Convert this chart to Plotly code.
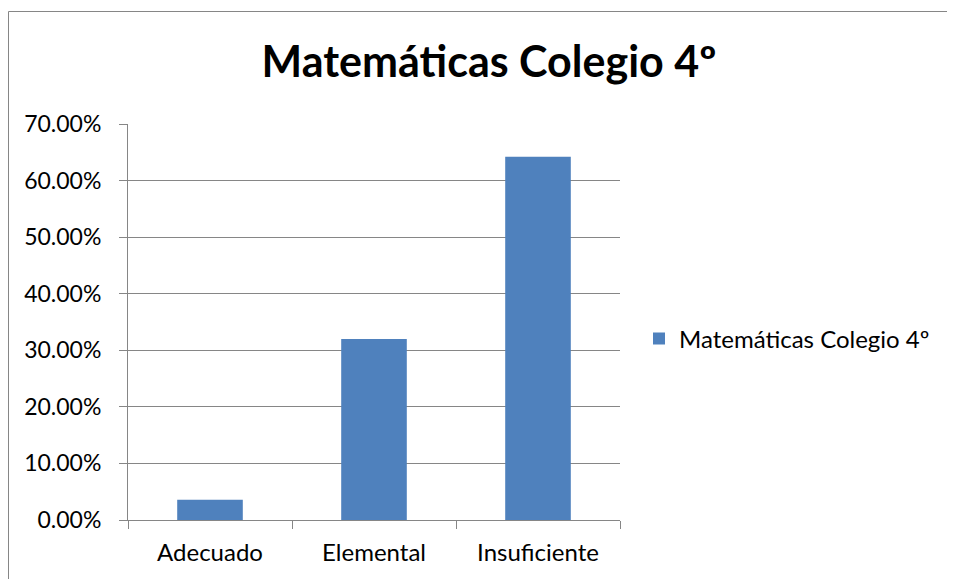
import plotly.graph_objects as go

categories = ["Adecuado", "Elemental", "Insuficiente"]
values = [0.036, 0.320, 0.642]
series_name = "Matemáticas Colegio 4º"
title_text = "Matemáticas Colegio 4º"
y_ticks = [0, 0.1, 0.2, 0.3, 0.4, 0.5, 0.6, 0.7]
y_ticklabels = ["0.00%", "10.00%", "20.00%", "30.00%", "40.00%", "50.00%", "60.00%", "70.00%"]

# page is offset by the body margin (8px); figure coords = page coords - 8
OFF = 8
W, H = 955 - OFF, 579 - OFF
L, T = 128 - OFF, 124 - OFF
R = W - (620 - OFF)
B = H - (520 - OFF)
pw = W - L - R
ph = H - T - B

def px_x(px):
    return (px - OFF - L) / pw

def px_y(py):
    return (H - B - (py - OFF)) / ph

FONT = "Lato, Open Sans, sans-serif"
GRAY = "#868686"

fig = go.Figure()
fig.add_trace(go.Bar(
    x=categories, y=values, name=series_name,
    marker=dict(color="#4F81BD", line=dict(width=0)),
    width=0.4, showlegend=True,
))

fig.update_layout(
    width=W, height=H,
    margin=dict(l=L, r=R, t=T, b=B, autoexpand=False),
    paper_bgcolor="white", plot_bgcolor="white",
    font=dict(family=FONT, size=24, color="black"),
    title=dict(text="<b>" + title_text + "</b>", x=px_x(489), xref="paper", xanchor="center",
               y=1 - (62 - OFF) / H, yanchor="middle", font=dict(size=43, family=FONT, color="black")),
    showlegend=True,
    legend=dict(x=px_x(639), y=px_y(339), xanchor="left", yanchor="middle",
                font=dict(size=24, family=FONT), bgcolor="rgba(0,0,0,0)"),
)
fig.update_xaxes(
    type="category", showline=True, linecolor=GRAY, linewidth=1,
    ticks="outside", tickson="boundaries", ticklen=8, tickcolor=GRAY, tickwidth=1,
    showgrid=False, tickfont=dict(size=24, family=FONT), ticklabelstandoff=11,
)
fig.update_yaxes(
    range=[0, 0.7], tickvals=y_ticks, ticktext=y_ticklabels,
    showline=True, linecolor=GRAY, linewidth=1,
    ticks="outside", ticklen=8, tickcolor=GRAY, tickwidth=1,
    showgrid=True, gridcolor=GRAY, gridwidth=1, zeroline=False,
    tickfont=dict(size=23, family=FONT), ticklabelstandoff=13,
)
fig.add_shape(type="rect", xref="paper", yref="paper",
              x0=px_x(8.5), x1=px_x(990), y0=px_y(620), y1=px_y(11.5),
              line=dict(color=GRAY, width=1), fillcolor="rgba(0,0,0,0)", layer="below")

fig.write_html("out.html")
